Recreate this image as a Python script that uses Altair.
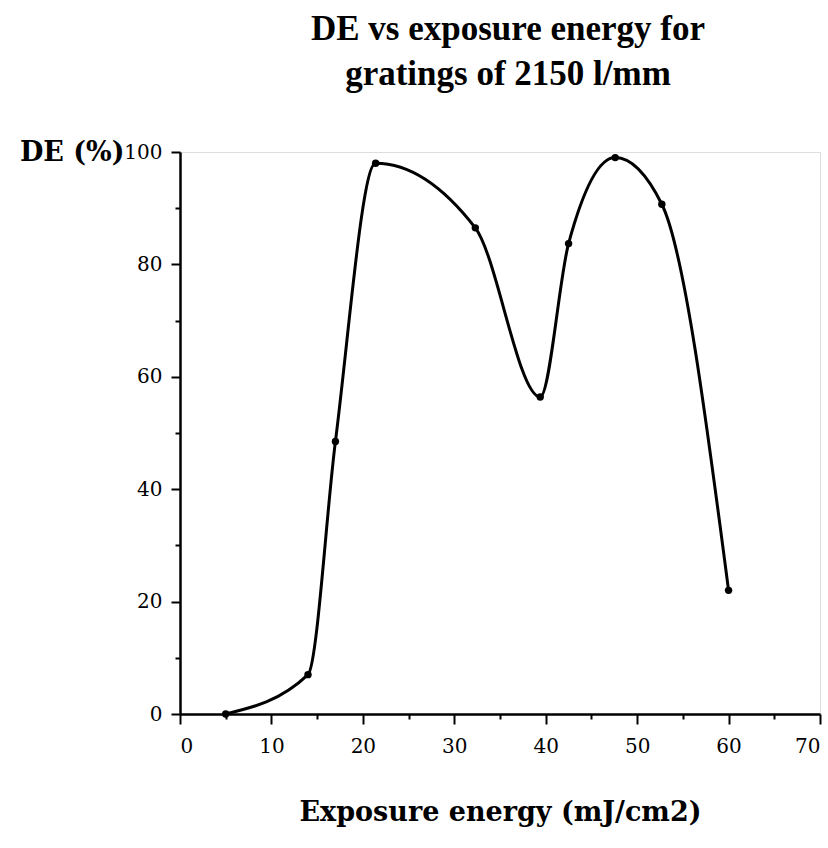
import altair as alt
import pandas as pd

# Data
energy = [5, 14, 17, 21.4, 32.3, 39.4, 42.5, 47.6, 52.7, 60]
de = [0, 7, 48.5, 98, 86.5, 56.4, 83.7, 99, 90.7, 22]

x_major = [0, 10, 20, 30, 40, 50, 60, 70]
x_minor = [5, 15, 25, 35, 45, 55, 65]
y_major = [0, 20, 40, 60, 80, 100]
y_minor = [10, 30, 50, 70, 90]

df = pd.DataFrame({"energy": energy, "de": de})

xscale = alt.Scale(domain=[0, 70], nice=False, zero=False)
yscale = alt.Scale(domain=[0, 100], nice=False)

LABEL_FONT = "DejaVu Serif"
TITLE_FONT = "DejaVu Serif"

x_axis = alt.Axis(
    values=x_major, orient="bottom", grid=False, tickSize=10, tickWidth=2,
    tickColor="black", domainColor="black", domainWidth=2.5,
    labelFont=LABEL_FONT, labelFontSize=20, labelColor="black", labelPadding=12,
    title="Exposure energy (mJ/cm2)", titleFont=TITLE_FONT, titleFontSize=27,
    titleFontWeight="bold", titleColor="black", titleBaseline="alphabetic",
    titleY=106, titleAnchor="middle",
)
y_axis = alt.Axis(
    values=y_major, orient="left", grid=False, tickSize=9, tickWidth=2,
    tickColor="black", domainColor="black", domainWidth=2.5,
    labelFont=LABEL_FONT, labelFontSize=20, labelColor="black", labelPadding=9,
    title="DE (%)", titleFont=TITLE_FONT, titleFontSize=27, titleFontWeight="bold",
    titleColor="black", titleAngle=0, titleAlign="right", titleBaseline="middle",
    titleX=-56, titleY=0,
)
x_minor_axis = alt.Axis(
    values=x_minor, orient="bottom", grid=False, labels=False, domain=False,
    tickSize=5, tickWidth=2, tickColor="black", title=None,
)
y_minor_axis = alt.Axis(
    values=y_minor, orient="left", grid=False, labels=False, domain=False,
    tickSize=5, tickWidth=2, tickColor="black", title=None,
)

base = alt.Chart(df)

minor = base.mark_point(opacity=0).encode(
    x=alt.X("energy:Q", scale=xscale, axis=x_minor_axis),
    y=alt.Y("de:Q", scale=yscale, axis=y_minor_axis),
)

line = base.mark_line(interpolate="monotone", color="black", strokeWidth=3).encode(
    x=alt.X("energy:Q", scale=xscale, axis=x_axis),
    y=alt.Y("de:Q", scale=yscale, axis=y_axis),
)

pts = base.mark_circle(size=55, color="black", opacity=1).encode(
    x=alt.X("energy:Q", scale=xscale, axis=None),
    y=alt.Y("de:Q", scale=yscale, axis=None),
)

chart = (
    alt.layer(minor, line, pts)
    .resolve_axis(x="independent", y="independent")
    .properties(
        width=640,
        height=562,
        padding={"left": 180, "top": 152, "right": 8, "bottom": 130},
        autosize=alt.AutoSizeParams(type="none"),
        title=alt.TitleParams(
            text=["DE vs exposure energy for", "gratings of 2150 l/mm"],
            font="Liberation Serif", fontSize=35, fontWeight="bold",
            color="black", anchor="middle", frame="group", lineHeight=45,
            offset=46, dx=8,
        ),
    )
    .configure_view(stroke="black", strokeWidth=2.5)
    .configure(background="white")
)

chart.save("out.html", embed_options={"renderer": "svg", "actions": False})
